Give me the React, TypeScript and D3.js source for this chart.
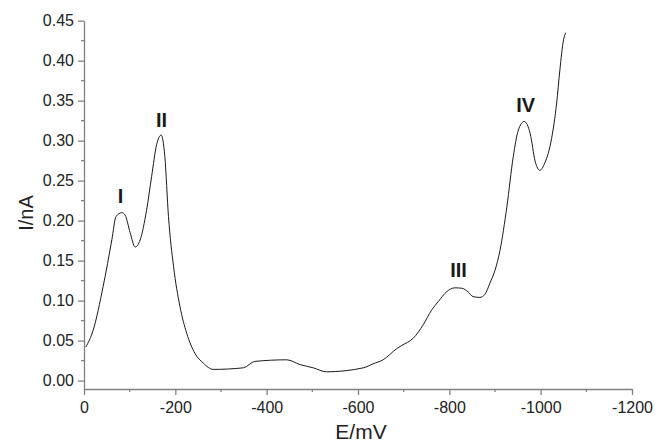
import React, { useEffect, useRef } from "react";
import * as d3 from "d3";

// potential (mV) and current (nA)
const potential = [
  -4, -20, -42, -61, -70, -83, -90, -101, -112, -123, -137, -148, -159, -169,
  -177, -185, -196, -210, -225, -243, -261, -283, -349, -374, -444, -473, -502,
  -531, -612, -633, -655, -685, -696, -721, -743, -761, -776, -794, -812, -827,
  -841, -852, -867, -878, -889, -900, -911, -926, -940, -951, -964, -977, -988,
  -998, -1009, -1024, -1035, -1042, -1050, -1055,
];
const current = [
  0.042, 0.063, 0.118, 0.176, 0.205, 0.21, 0.207, 0.185, 0.167, 0.176, 0.213,
  0.255, 0.295, 0.307, 0.28, 0.205, 0.143, 0.093, 0.059, 0.034, 0.022, 0.014,
  0.016, 0.024, 0.026, 0.02, 0.016, 0.011, 0.016, 0.021, 0.026, 0.04, 0.044,
  0.053, 0.07, 0.088, 0.099, 0.111, 0.116, 0.1155, 0.111, 0.105, 0.104, 0.108,
  0.122, 0.138, 0.163, 0.2175, 0.28, 0.313, 0.324, 0.309, 0.274, 0.263, 0.272,
  0.303, 0.347, 0.388, 0.426, 0.435,
];

// peak labels
const peakNames = ["I", "II", "III", "IV"];
const peakE = [-80, -170, -820, -967];
const peakI = [0.222, 0.317, 0.13, 0.336];

const xTicks = [0, -200, -400, -600, -800, -1000, -1200];
const yTicks = [0, 0.05, 0.1, 0.15, 0.2, 0.25, 0.3, 0.35, 0.4, 0.45];

const App = () => {
  const svgRef = useRef<SVGSVGElement>(null);

  useEffect(() => {
    if (!svgRef.current) return;

    const font = '"Liberation Sans", Arial, sans-serif';
    const axisColor = "#808080";
    const textColor = "#222";

    const svg = d3.select(svgRef.current);
    svg.selectAll("*").remove();

    const x = d3.scaleLinear().domain([0, -1200]).range([84, 632]);
    const y = d3.scaleLinear().domain([-0.0105, 0.45]).range([389, 20.7]);

    const data = potential.map((e, i) => ({ e, i: current[i] }));

    // minor ticks
    const xMinor = d3.range(0, -1201, -100).filter((v) => v % 200 !== 0);
    const yMinor = d3.range(0.025, 0.45, 0.05);

    const xAxis = svg
      .append("g")
      .attr("transform", `translate(0,${y.range()[0]})`)
      .call(
        d3
          .axisBottom(x)
          .tickValues(xTicks)
          .tickFormat((d) => `${d}`)
          .tickSize(6)
          .tickSizeOuter(0)
          .tickPadding(7)
      );
    xAxis
      .selectAll("line, path")
      .attr("stroke", axisColor)
      .attr("stroke-width", 1.3);
    xAxis
      .selectAll("text")
      .style("font-family", font)
      .style("font-size", "16px")
      .attr("fill", textColor);
    xAxis
      .selectAll(".minor")
      .data(xMinor)
      .enter()
      .append("line")
      .attr("x1", (d) => x(d))
      .attr("x2", (d) => x(d))
      .attr("y1", 0)
      .attr("y2", 3)
      .attr("stroke", axisColor)
      .attr("stroke-width", 1.3);

    const yAxis = svg
      .append("g")
      .attr("transform", `translate(${x.range()[0]},0)`)
      .call(
        d3
          .axisLeft(y)
          .tickValues(yTicks)
          .tickFormat(d3.format(".2f"))
          .tickSize(6)
          .tickSizeOuter(0)
          .tickPadding(4)
      );
    yAxis
      .selectAll("line, path")
      .attr("stroke", axisColor)
      .attr("stroke-width", 1.3);
    yAxis
      .selectAll("text")
      .style("font-family", font)
      .style("font-size", "16px")
      .attr("fill", textColor);
    yAxis
      .selectAll(".minor")
      .data(yMinor)
      .enter()
      .append("line")
      .attr("x1", -3)
      .attr("x2", 0)
      .attr("y1", (d) => y(d))
      .attr("y2", (d) => y(d))
      .attr("stroke", axisColor)
      .attr("stroke-width", 1.3);

    // the trace
    const line = d3
      .line<{ e: number; i: number }>()
      .x((d) => x(d.e))
      .y((d) => y(d.i))
      .curve(d3.curveMonotoneX);

    svg
      .append("path")
      .datum(data)
      .attr("fill", "none")
      .attr("stroke", "#1a1a1a")
      .attr("stroke-width", 1)
      .attr("d", line);

    // peak labels
    svg
      .selectAll(".peak")
      .data(peakNames)
      .enter()
      .append("text")
      .attr("x", (d, k) => x(peakE[k]))
      .attr("y", (d, k) => y(peakI[k]))
      .attr("text-anchor", "middle")
      .style("font-family", font)
      .style("font-size", "20px")
      .style("font-weight", "bold")
      .attr("fill", "#1a1a1a")
      .text((d) => d);

    // axis titles
    svg
      .append("text")
      .attr("x", 361)
      .attr("y", 439)
      .attr("text-anchor", "middle")
      .style("font-family", font)
      .style("font-size", "21px")
      .attr("fill", textColor)
      .text("E/mV");

    svg
      .append("text")
      .attr("transform", "translate(33,213) rotate(-90)")
      .attr("text-anchor", "middle")
      .style("font-family", font)
      .style("font-size", "20px")
      .attr("fill", textColor)
      .text("I/nA");
  }, []);

  return (
    <div style={{ position: "absolute", left: 0, top: 0, background: "#fff" }}>
      <svg ref={svgRef} width={658} height={444} style={{ display: "block" }}></svg>
    </div>
  );
};

export default App;
